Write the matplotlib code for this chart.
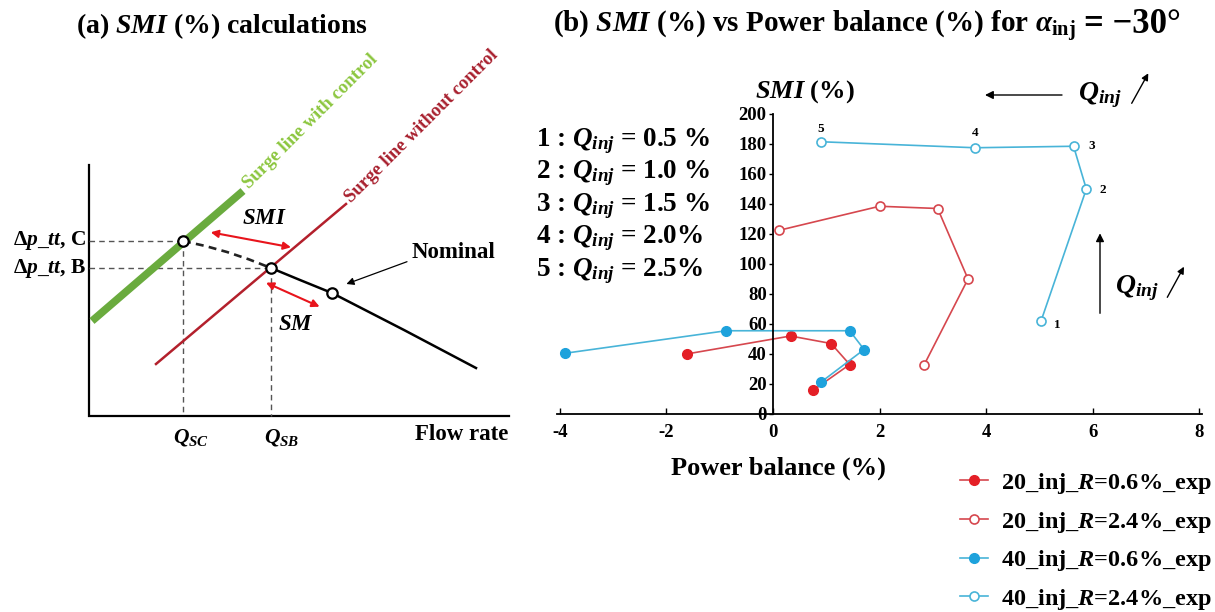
import matplotlib
matplotlib.use('Agg')
import matplotlib.pyplot as plt

plt.rcParams['font.family'] = ['Liberation Serif', 'DejaVu Serif']
plt.rcParams['font.weight'] = 'bold'
plt.rcParams['mathtext.fontset'] = 'custom'
plt.rcParams['mathtext.rm'] = 'Liberation Serif:bold'
plt.rcParams['mathtext.it'] = 'Liberation Serif:italic:bold'
plt.rcParams['mathtext.bf'] = 'Liberation Serif:bold'
plt.rcParams['axes.unicode_minus'] = False

# ---------------- panel (b) data ----------------
q_labels = ['1', '2', '3', '4', '5']
q_legend = ['1 : $Q_{inj}$ = 0.5 %', '2 : $Q_{inj}$ = 1.0 %', '3 : $Q_{inj}$ = 1.5 %',
            '4 : $Q_{inj}$ = 2.0%', '5 : $Q_{inj}$ = 2.5%']
pb_20_r06 = [0.76, 1.44, 1.09, 0.33, -1.62]
smi_20_r06 = [16, 33, 47, 52, 40]
pb_20_r24 = [2.84, 3.66, 3.09, 2.00, 0.12]
smi_20_r24 = [33, 90, 137, 138.5, 122.5]
pb_40_r06 = [0.91, 1.71, 1.44, -0.88, -3.90]
smi_40_r06 = [21.5, 43, 55.5, 55.5, 40.5]
pb_40_r24 = [5.03, 5.88, 5.64, 3.79, 0.90]
smi_40_r24 = [62, 150, 178.5, 177.5, 181.5]
series_labels = ['20_inj_$R$=0.6%_exp', '20_inj_$R$=2.4%_exp',
                 '40_inj_$R$=0.6%_exp', '40_inj_$R$=2.4%_exp']
x_ticks = [-4, -2, 0, 2, 4, 6, 8]
y_ticks = [0, 20, 40, 60, 80, 100, 120, 140, 160, 180, 200]

# ---------------- panel (a) schematic (figure pixel units) ----------------
surge_ctrl_x, surge_ctrl_y = [92, 243], [321, 191]
surge_noctrl_x, surge_noctrl_y = [156, 346], [364, 204]
char_dash_x = [183, 205, 227, 249, 271]
char_dash_y = [241, 245.9, 252.0, 259.4, 268]
char_solid_x = [271, 300, 332, 404, 476]
char_solid_y = [268, 280, 293, 330, 368]
op_x = [183, 271, 332]
op_y = [241, 268, 293]

W, H = 1215, 612
fig = plt.figure(figsize=(W / 100, H / 100), dpi=100)

RED_F = '#e41f26'
RED_L = '#d6474e'
BLUE_F = '#1ea2dc'
BLUE_L = '#48b4d8'

# ---------------- right axes ----------------
axR = fig.add_axes([557.1 / W, (H - 414) / H, 644.9 / W, 300 / H])
axR.plot(pb_20_r06, smi_20_r06, '-o', color=RED_L, mfc=RED_F, mec=RED_F,
         ms=7, lw=1.2, label=series_labels[0])
axR.plot(pb_20_r24, smi_20_r24, '-o', color=RED_L, mfc='white', mec=RED_L,
         ms=6.5, mew=1.2, lw=1.2, label=series_labels[1])
axR.plot(pb_40_r06, smi_40_r06, '-o', color=BLUE_L, mfc=BLUE_F, mec=BLUE_F,
         ms=7, lw=1.2, label=series_labels[2])
axR.plot(pb_40_r24, smi_40_r24, '-o', color=BLUE_L, mfc='white', mec=BLUE_L,
         ms=6.5, mew=1.2, lw=1.2, label=series_labels[3])
axR.set_xlim(-4.05, 8.05)
axR.set_ylim(0, 200)
axR.set_xticks(x_ticks)
axR.set_yticks(y_ticks)
axR.set_xticklabels([str(t) for t in x_ticks])
axR.set_yticklabels([str(t) for t in y_ticks])
axR.spines['left'].set_position(('data', 0))
axR.spines['bottom'].set_position(('data', 0))
axR.spines['top'].set_visible(False)
axR.spines['right'].set_visible(False)
for s in ('left', 'bottom'):
    axR.spines[s].set_linewidth(1.3)
axR.patch.set_alpha(0)
axR.tick_params(axis='x', direction='in', length=4, width=1, pad=7, labelsize=13.5)
axR.tick_params(axis='y', direction='out', length=3, width=1, pad=1.5, labelsize=13.5)

offsets = [(12, -3), (11.5, -1), (13, 0), (0, 10.5), (0, 9.5)]
for lab, x, y, off in zip(q_labels, pb_40_r24, smi_40_r24, offsets):
    axR.annotate(lab, (x, y), xytext=off, textcoords='offset points',
                 ha='center', va='center', fontsize=9.5, fontweight='bold')

leg = axR.legend(loc='upper left', bbox_to_anchor=(960 / W, 1 - 471 / H),
                 bbox_transform=fig.transFigure, frameon=False, fontsize=17.5,
                 handlelength=1.15, handletextpad=0.52, labelspacing=0.56,
                 borderpad=0, borderaxespad=0)

# ---------------- overlay (text + schematic) ----------------
ov = fig.add_axes([0, 0, 1, 1])
ov.set_xlim(0, W)
ov.set_ylim(H, 0)
ov.axis('off')
ov.patch.set_alpha(0)

# schematic axes
ov.plot([89, 89, 509], [165, 416, 416], color='black', lw=1.6, solid_joinstyle='miter')
# guides
gd = dict(color='#555555', lw=1.0, ls=(0, (4, 3)))
ov.plot([89, op_x[0]], [op_y[0], op_y[0]], **gd)
ov.plot([89, op_x[1]], [op_y[1], op_y[1]], **gd)
ov.plot([op_x[0], op_x[0]], [op_y[0], 416], **gd)
ov.plot([op_x[1], op_x[1]], [op_y[1], 416], **gd)
# surge lines
ov.plot(surge_ctrl_x, surge_ctrl_y, color='#6aab3e', lw=5.5, solid_capstyle='butt')
ov.plot(surge_noctrl_x, surge_noctrl_y, color='#b3202c', lw=1.8)
# characteristic
ov.plot(char_dash_x, char_dash_y, color='#222222', lw=1.9, ls=(0, (3, 2)))
ov.plot(char_solid_x, char_solid_y, color='black', lw=1.8)
ov.plot(op_x, op_y, 'o', ms=7.5, mfc='white', mec='black', mew=1.6, zorder=5)

# red double arrows
ov.annotate('', xy=(210.7, 232.3), xytext=(291, 247.3),
            arrowprops=dict(arrowstyle='<|-|>', color='#e8141c', lw=1.5, mutation_scale=11,
                            shrinkA=0, shrinkB=0))
ov.annotate('', xy=(266, 282.7), xytext=(319.6, 306.7),
            arrowprops=dict(arrowstyle='<|-|>', color='#e8141c', lw=1.5, mutation_scale=11,
                            shrinkA=0, shrinkB=0))
ov.annotate('', xy=(346.4, 284), xytext=(407, 261.7),
            arrowprops=dict(arrowstyle='-|>', color='black', lw=0.9, mutation_scale=11,
                            shrinkA=0, shrinkB=0))

ov.text(222, 33, '(a) $SMI$ (%) calculations', fontsize=20, ha='center', va='baseline')
ov.text(86, 241, 'Δ$p\\_tt$, C', fontsize=15.5, ha='right', va='center')
ov.text(86, 268, 'Δ$p\\_tt$, B', fontsize=15.5, ha='right', va='center')
ov.text(191, 437, '$Q_{SC}$', fontsize=15.5, ha='center', va='center')
ov.text(282, 437, '$Q_{SB}$', fontsize=15.5, ha='center', va='center')
ov.text(508, 435, 'Flow rate', fontsize=16.5, ha='right', va='center')
ov.text(412, 253, 'Nominal', fontsize=16.5, ha='left', va='center')
ov.text(264, 218, '$SMI$', fontsize=16.5, ha='center', va='center')
ov.text(296, 325, '$SM$', fontsize=16.5, ha='center', va='center')
ov.text(249, 189, 'Surge line with control', fontsize=13.5, color='#8cc63f',
        rotation=45, rotation_mode='anchor', ha='left', va='baseline')
ov.text(351, 203, 'Surge line without control', fontsize=13.5, color='#a8202e',
        rotation=45, rotation_mode='anchor', ha='left', va='baseline')

# panel (b) texts
tb = ov.text(553, 33, '(b) $SMI$ (%) vs Power balance (%) for $\\alpha_{\\mathrm{inj}}$',
             fontsize=21, ha='left', va='baseline')
fig.canvas.draw()
bb = tb.get_window_extent(fig.canvas.get_renderer())
ov.text(bb.x1 + 8, 33, '= −30°', fontsize=25, ha='left', va='baseline')

ov.text(805, 92, '$SMI$ (%)', fontsize=19, ha='center', va='center')
ov.text(778, 468, 'Power balance (%)', fontsize=19, ha='center', va='center')
for i, t in enumerate(q_legend):
    ov.text(536, 141 + i * 32.5, t, fontsize=19.5, ha='left', va='center')

ov.annotate('', xy=(985, 95), xytext=(1062, 95),
            arrowprops=dict(arrowstyle='-|>', color='black', lw=1.0, mutation_scale=12,
                            shrinkA=0, shrinkB=0))
ov.text(1078, 95, '$Q_{inj}$', fontsize=20, ha='left', va='center')
ov.annotate('', xy=(1148.3, 73.3), xytext=(1131.7, 103.3),
            arrowprops=dict(arrowstyle='-|>', color='black', lw=1.0, mutation_scale=10,
                            shrinkA=0, shrinkB=0))
ov.annotate('', xy=(1100, 233.3), xytext=(1100, 313.3),
            arrowprops=dict(arrowstyle='-|>', color='black', lw=1.0, mutation_scale=12,
                            shrinkA=0, shrinkB=0))
ov.text(1115, 288, '$Q_{inj}$', fontsize=20, ha='left', va='center')
ov.annotate('', xy=(1184, 266.7), xytext=(1167.3, 297.3),
            arrowprops=dict(arrowstyle='-|>', color='black', lw=1.0, mutation_scale=10,
                            shrinkA=0, shrinkB=0))

fig.savefig('out.png', dpi=100)
